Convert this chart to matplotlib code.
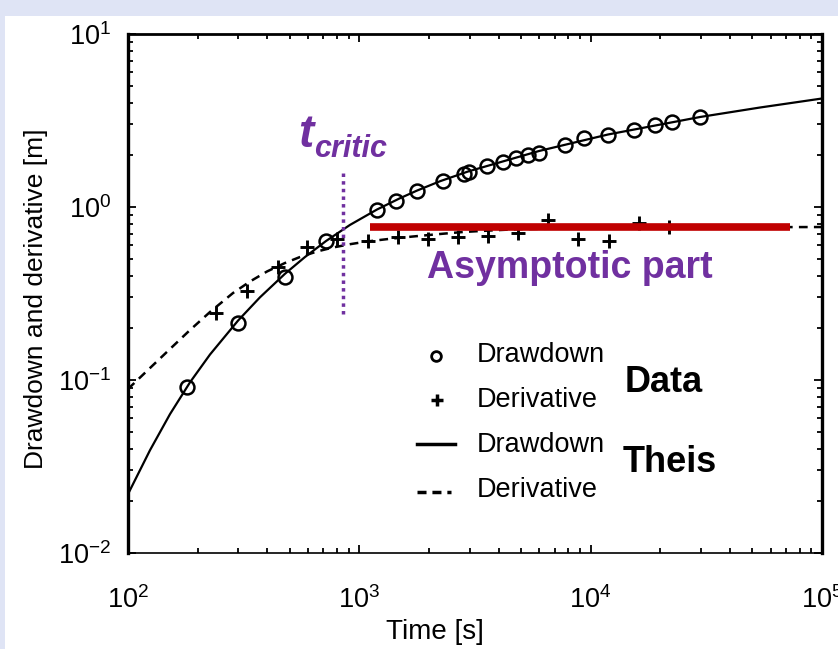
import math
import matplotlib
matplotlib.use('Agg')
import matplotlib.pyplot as plt
from matplotlib.lines import Line2D
from matplotlib.patches import Rectangle
from matplotlib.ticker import LogLocator, FuncFormatter, NullFormatter

plt.rcParams['font.family'] = ['Liberation Sans', 'DejaVu Sans']
plt.rcParams['mathtext.fontset'] = 'custom'
plt.rcParams['mathtext.rm'] = 'Liberation Sans'
plt.rcParams['mathtext.it'] = 'Liberation Sans:italic'
plt.rcParams['mathtext.bf'] = 'Liberation Sans:bold'

# ---------------- data ----------------
dd_time = [180, 299, 477, 718, 1192, 1447, 1775, 2299, 2821, 2965, 3564, 4178,
           4756, 5386, 5980, 7745, 9358, 11885, 15395, 18975, 22468, 29700]
dd_obs = [0.0912, 0.214, 0.394, 0.636, 0.967, 1.083, 1.237, 1.414, 1.551, 1.593,
          1.726, 1.820, 1.920, 1.998, 2.065, 2.283, 2.505, 2.624, 2.786, 2.959,
          3.100, 3.30]

der_time = [241, 326, 446, 592, 798, 1094, 1474, 1975, 2678, 3610, 4867, 6561,
            8843, 12036, 16232, 21878]
der_obs = [0.245, 0.328, 0.452, 0.585, 0.651, 0.636, 0.668, 0.656, 0.673, 0.680,
           0.710, 0.841, 0.651, 0.639, 0.811, 0.769]

theis_dd_time = [100, 124.5, 151.9, 185.4, 226.2, 299, 372, 477, 582.3, 718, 911.4,
                 1192, 1499, 1775, 2232, 2950, 5980, 11885, 29700, 53950, 100000]
theis_dd = [0.0219, 0.0393, 0.0635, 0.0970, 0.1404, 0.2205, 0.3006, 0.4111, 0.514,
            0.636, 0.788, 0.967, 1.124, 1.244, 1.409, 1.604, 2.107, 2.625, 3.313,
            3.759, 4.238]

theis_der_time = [100, 124.5, 151.9, 185.4, 226.2, 284.4, 336.9, 398.9, 477, 554,
                  656.2, 769.6, 911.4, 1079.5, 1357, 1706, 2232, 2807, 3672, 4805,
                  10975, 29700, 100000]
theis_der = [0.0887, 0.1173, 0.1511, 0.1945, 0.2472, 0.3183, 0.3710, 0.4239, 0.4746,
             0.5140, 0.5531, 0.5833, 0.6095, 0.6318, 0.6549, 0.6753, 0.6982, 0.7170,
             0.7314, 0.7442, 0.7562, 0.7634, 0.766]

asym_time = [1112, 72720]
asym_value = [0.766, 0.766]

t_critic = 853
t_critic_span = [0.241, 1.637]

legend_labels = ['Drawdown', 'Derivative', 'Drawdown', 'Derivative']
group_labels = ['Data', 'Theis']

# ---------------- figure ----------------
W, H = 838, 649
fig = plt.figure(figsize=(W / 100, H / 100), dpi=100)
fig.patch.set_facecolor('#dfe4f5')
fig.add_artist(Rectangle((5 / W, 0), 1 - 5 / W, 1 - 16 / H, transform=fig.transFigure,
                         facecolor='white', edgecolor='none', zorder=0))


def fx(x):
    return x / W


def fy(y):
    return 1 - y / H


ax = fig.add_axes([fx(128), fy(553), (822 - 128) / W, (553 - 34) / H])
ax.set_facecolor('white')
ax.set_xscale('log')
ax.set_yscale('log')
ax.set_xlim(1e2, 1e5)
ax.set_ylim(1e-2, 1e1)

purple = '#7030a0'

# Theis curves
ax.plot(theis_dd_time, theis_dd, color='black', lw=1.6, zorder=3)
ax.plot(theis_der_time, theis_der, color='black', lw=1.8, ls=(0, (3.5, 2.5)), zorder=3)

# data
ax.plot(dd_time, dd_obs, ls='none', marker='o', ms=10, mfc='none', mec='black',
        mew=1.8, zorder=4)
ax.plot(der_time, der_obs, ls='none', marker='+', ms=9.5, mec='black', mew=2.1, zorder=4)

# asymptote
ax.plot(asym_time, asym_value, color='#c00000', lw=5.5, solid_capstyle='butt', zorder=5)

# t critic
ax.plot([t_critic, t_critic], t_critic_span, color=purple, lw=2.5,
        ls=(0, (1, 1.2)), zorder=5)

# ticks
ax.xaxis.set_major_locator(LogLocator(base=10, numticks=10))
ax.yaxis.set_major_locator(LogLocator(base=10, numticks=10))
ax.xaxis.set_minor_locator(LogLocator(base=10, subs=range(2, 10), numticks=20))
ax.yaxis.set_minor_locator(LogLocator(base=10, subs=range(2, 10), numticks=20))
fmt = FuncFormatter(lambda v, p: r'$\mathregular{10^{%d}}$' % round(math.log10(v)))
ax.xaxis.set_major_formatter(fmt)
ax.yaxis.set_major_formatter(fmt)
ax.xaxis.set_minor_formatter(NullFormatter())
ax.yaxis.set_minor_formatter(NullFormatter())
ax.tick_params(which='both', direction='in', top=True, right=True, colors='black',
               width=1.3)
ax.tick_params(which='major', length=6, labelsize=19.5)
ax.tick_params(which='minor', length=3.5)
ax.tick_params(axis='x', which='major', pad=24)
ax.tick_params(axis='y', which='major', pad=12)

for side, lw in [('left', 2.4), ('right', 2.4), ('top', 2.0), ('bottom', 1.2)]:
    ax.spines[side].set_linewidth(lw)
    ax.spines[side].set_color('black')

ax.set_xlabel('Time [s]', fontsize=20)
ax.xaxis.label.set_verticalalignment('center')
ax.xaxis.set_label_coords((435 - 128) / 694, (553 - 632) / 519)
ax.set_ylabel('Drawdown and derivative [m]', fontsize=19)
ax.yaxis.label.set_verticalalignment('center')
ax.yaxis.set_label_coords((36 - 128) / 694, (553 - 299) / 519)

# annotations
fig.text(fx(298), fy(147), 't', color=purple, fontsize=33, fontweight='bold',
         fontstyle='italic', ha='left', va='baseline')
fig.text(fx(314), fy(157), 'critic', color=purple, fontsize=22, fontweight='bold',
         fontstyle='italic', ha='left', va='baseline')
fig.text(fx(427), fy(278), 'Asymptotic part', color=purple, fontsize=27,
         fontweight='bold', ha='left', va='baseline')

# custom legend
fig.add_artist(Line2D([fx(436)], [fy(356)], ls='none', marker='o', ms=7, mfc='none',
                      mec='black', mew=2.0, transform=fig.transFigure))
fig.add_artist(Line2D([fx(437)], [fy(400)], ls='none', marker='+', ms=9, mec='black',
                      mew=2.5, transform=fig.transFigure))
fig.add_artist(Line2D([fx(417), fx(455)], [fy(444), fy(444)], color='black', lw=2.5,
                      transform=fig.transFigure))
fig.add_artist(Line2D([fx(417), fx(451)], [fy(492), fy(492)], color='black', lw=2.5,
                      ls=(0, (2.6, 1.7)), transform=fig.transFigure))
for lab, y in zip(legend_labels, [355, 400, 445, 490]):
    fig.text(fx(477), fy(y), lab, fontsize=19.5, ha='left', va='center')
fig.text(fx(625), fy(383), group_labels[0], fontsize=26, fontweight='bold',
         ha='left', va='center')
fig.text(fx(623), fy(463), group_labels[1], fontsize=26, fontweight='bold',
         ha='left', va='center')

fig.savefig('out.png', dpi=100)
